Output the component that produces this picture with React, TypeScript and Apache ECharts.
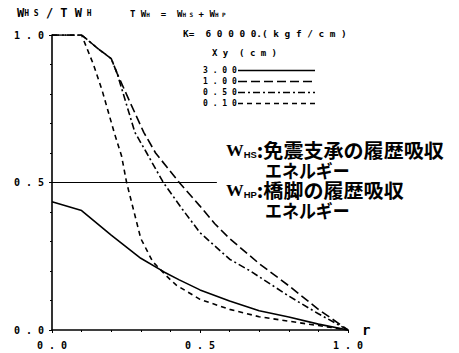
import React, { useEffect, useRef } from "react";
import * as echarts from "echarts";

// r values and W_HS/TW_H for each Xy (cm)
const x300 = [0, 0.1, 0.2, 0.3, 0.38, 0.43, 0.5, 0.6, 0.7, 0.8, 0.9, 1.0];
const y300 = [0.435, 0.405, 0.322, 0.243, 0.196, 0.17, 0.136, 0.098, 0.065, 0.044, 0.02, 0];

const x100 = [0, 0.1, 0.16, 0.2, 0.22, 0.26, 0.31, 0.35, 0.39, 0.43, 0.5, 0.55, 0.6, 0.7, 0.8, 0.9, 1.0];
const y100 = [1, 1, 0.95, 0.92, 0.87, 0.78, 0.67, 0.6, 0.55, 0.5, 0.42, 0.36, 0.31, 0.225, 0.15, 0.07, 0];

const x050 = [0, 0.1, 0.16, 0.2, 0.22, 0.25, 0.28, 0.32, 0.376, 0.44, 0.5, 0.6, 0.67, 0.8, 0.9, 1.0];
const y050 = [1, 1, 0.95, 0.92, 0.87, 0.77, 0.67, 0.6, 0.5, 0.41, 0.33, 0.24, 0.2, 0.115, 0.055, 0];

const x010 = [0, 0.1, 0.14, 0.17, 0.21, 0.235, 0.252, 0.3, 0.34, 0.39, 0.42, 0.5, 0.6, 0.7, 0.8, 0.9, 1.0];
const y010 = [1, 1, 0.9, 0.81, 0.67, 0.59, 0.5, 0.31, 0.232, 0.18, 0.152, 0.104, 0.07, 0.045, 0.03, 0.015, 0];

const refX = [0, 0.557];
const refY = [0.5, 0.5];

const legendLabels = ["3.00", "1.00", "0.50", "0.10"];
const xTickLabels = ["0.0", "0.5", "1.0"];

const zip = (xs: number[], ys: number[]) => xs.map((x, i) => [x, ys[i]]);
const spaced = (s: string) => s.split("").join(" ");

const MONO = "DejaVu Sans Mono";
const dashes: Record<string, any> = {
  "3.00": "solid",
  "1.00": [9, 4],
  "0.50": [7, 3, 2, 3],
  "0.10": [5, 4],
};

export default function App() {
  const ref = useRef<HTMLDivElement>(null);
  useEffect(() => {
    if (!ref.current) return;
    const chart = echarts.init(ref.current, null, { renderer: "svg" });
    const lineSeries = (name: string, xs: number[], ys: number[]) => ({
      name,
      type: "line",
      data: zip(xs, ys),
      showSymbol: false,
      symbol: "none",
      smooth: false,
      lineStyle: { color: "#000", width: 1.6, type: dashes[name] },
      z: 3,
    });
    const rowY = [70.5, 81.5, 92.5, 103.5];
    const legendGraphics: any[] = [];
    legendLabels.forEach((l, i) => {
      legendGraphics.push({
        type: "text",
        x: 203,
        y: rowY[i],
        style: {
          text: spaced(l),
          font: `bold 8px "${MONO}"`,
          fill: "#000",
          verticalAlign: "middle",
        },
      });
      legendGraphics.push({
        type: "line",
        shape: { x1: 238, y1: rowY[i], x2: 315, y2: rowY[i] },
        style: {
          stroke: "#000",
          lineWidth: 1.6,
          lineDash: dashes[l] === "solid" ? null : dashes[l],
        },
      });
    });
    const jpFont = '"Noto Sans CJK JP"';
    const richW = {
      w: { fontFamily: "Liberation Serif", fontWeight: "bold", fontSize: 15, lineHeight: 17, fill: "#000" },
      s: { fontFamily: "Liberation Sans", fontWeight: "bold", fontSize: 8, lineHeight: 17, fill: "#000", verticalAlign: "bottom" },
      j: { fontFamily: jpFont, fontWeight: "bold", fontSize: 17, lineHeight: 17, fill: "#000" },
    };
    const kana = { fontFamily: jpFont, fontWeight: "bold", fontSize: 16, lineHeight: 16, fill: "#000" };
    chart.setOption({
      animation: false,
      backgroundColor: "#fff",
      grid: { left: 52, right: 111, top: 35, bottom: 23, containLabel: false },
      xAxis: {
        type: "value",
        min: 0,
        max: 1,
        interval: 0.5,
        name: "r",
        nameLocation: "end",
        nameGap: 14,
        nameTextStyle: { fontFamily: MONO, fontWeight: "bold", fontSize: 14, color: "#000", verticalAlign: "middle" },
        axisLine: { lineStyle: { color: "#000", width: 1.6 } },
        axisTick: { show: true, length: 3, lineStyle: { color: "#000" } },
        minorTick: { show: true, splitNumber: 5, length: 2, lineStyle: { color: "#000" } },
        splitLine: { show: false },
        axisLabel: {
          formatter: (v: number) => spaced(xTickLabels[Math.round(v * 2)] ?? v.toFixed(1)),
          fontFamily: MONO,
          fontWeight: "bold",
          fontSize: 10,
          color: "#000",
          margin: 10,
        },
      },
      yAxis: {
        type: "value",
        min: 0,
        max: 1,
        interval: 0.5,
        axisLine: { show: true, lineStyle: { color: "#000", width: 1.6 } },
        axisTick: { show: true, length: 3, inside: false, lineStyle: { color: "#000" } },
        minorTick: { show: true, splitNumber: 5, length: 2, lineStyle: { color: "#000" } },
        splitLine: { show: false },
        axisLabel: {
          formatter: (v: number) => spaced(v.toFixed(1)),
          fontFamily: MONO,
          fontWeight: "bold",
          fontSize: 10,
          color: "#000",
          margin: 8,
        },
      },
      series: [
        {
          name: "ref",
          type: "line",
          data: zip(refX, refY),
          symbol: "none",
          lineStyle: { color: "#000", width: 1.2 },
          z: 2,
        },
        lineSeries("3.00", x300, y300),
        lineSeries("1.00", x100, y100),
        lineSeries("0.50", x050, y050),
        lineSeries("0.10", x010, y010),
      ],
      graphic: [
        {
          type: "text",
          x: 17,
          y: 13,
          style: {
            text: "{a|W}{b|H S}{a| / T W}{b| H}",
            verticalAlign: "middle",
            rich: {
              a: { fontFamily: MONO, fontWeight: "bold", fontSize: 12, fill: "#000" },
              b: { fontFamily: MONO, fontWeight: "bold", fontSize: 8, fill: "#000" },
            },
          },
        },
        {
          type: "text",
          x: 130,
          y: 14,
          style: {
            text: "{a|T W}{b|H}{a|  =  W}{b|H S}{a| + W}{b|H P}",
            verticalAlign: "middle",
            rich: {
              a: { fontFamily: MONO, fontWeight: "bold", fontSize: 9, fill: "#000" },
              b: { fontFamily: MONO, fontWeight: "bold", fontSize: 6, fill: "#000" },
            },
          },
        },
        {
          type: "text",
          x: 183,
          y: 33,
          style: { text: "K=  6 0 0 0 0.( k g f / c m )", font: `bold 9.4px "${MONO}"`, fill: "#000", verticalAlign: "middle" },
        },
        {
          type: "text",
          x: 212,
          y: 53,
          style: { text: "X y  ( c m )", font: `bold 9px "${MONO}"`, fill: "#000", verticalAlign: "middle" },
        },
        ...legendGraphics,
        {
          type: "text",
          x: 226,
          y: 150,
          scaleX: 1.18,
          scaleY: 1.15,
          style: { text: "{w|W}{s|HS}{j|:免震支承の履歴吸収}", rich: richW, verticalAlign: "middle" },
        },
        {
          type: "text",
          x: 265,
          y: 170,
          scaleX: 1.06,
          scaleY: 1.15,
          style: { text: "エネルギー", ...kana, verticalAlign: "middle" },
        },
        {
          type: "text",
          x: 226,
          y: 190,
          scaleX: 1.18,
          scaleY: 1.15,
          style: { text: "{w|W}{s|HP}{j|:橋脚の履歴吸収}", rich: richW, verticalAlign: "middle" },
        },
        {
          type: "text",
          x: 265,
          y: 210,
          scaleX: 1.06,
          scaleY: 1.15,
          style: { text: "エネルギー", ...kana, verticalAlign: "middle" },
        },
      ],
    });
    return () => chart.dispose();
  }, []);
  return <div ref={ref} style={{ width: 459, height: 353, position: "absolute", left: 0, top: 0 }} />;
}
